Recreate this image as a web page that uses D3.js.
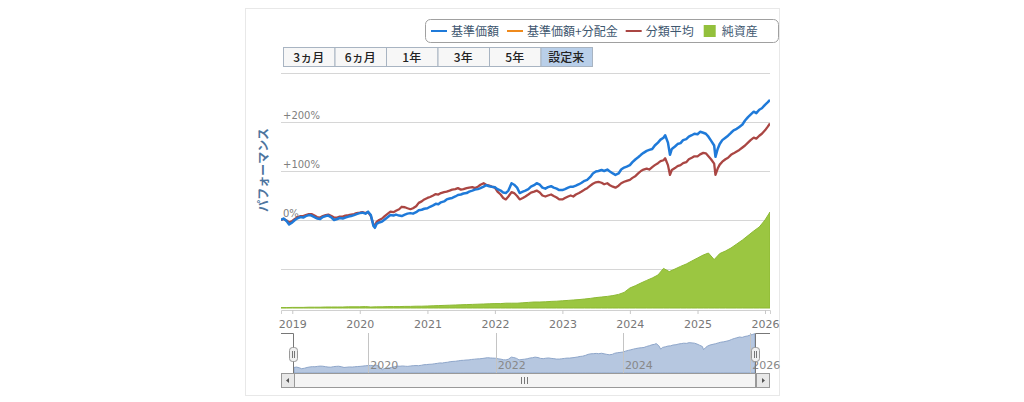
<!DOCTYPE html>
<html>
<head>
<meta charset="utf-8">
<script src="https://cdn.jsdelivr.net/npm/d3@7"></script>
<style>
  body { margin: 0; background: #fff; }
  text { font-family: "DejaVu Sans", sans-serif; }
  .jp { font-family: "Noto Sans CJK JP", sans-serif; }
</style>
</head>
<body>
<div id="chart"></div>
<script>
// ---- data ----
var dates = [
  "2018-11-01","2018-11-15","2018-12-01","2018-12-15",
  "2019-01-01","2019-01-15","2019-02-01","2019-02-15","2019-03-01","2019-03-15","2019-04-01","2019-04-15",
  "2019-05-01","2019-05-15","2019-06-01","2019-06-15","2019-07-01","2019-07-15","2019-08-01","2019-08-15",
  "2019-09-01","2019-09-15","2019-10-01","2019-10-15","2019-11-01","2019-11-15","2019-12-01","2019-12-15",
  "2020-01-01","2020-01-15","2020-02-01","2020-02-15","2020-03-01","2020-03-15","2020-03-23","2020-04-01",
  "2020-04-15","2020-05-01","2020-05-15","2020-06-01","2020-06-15","2020-07-01","2020-07-15","2020-08-01",
  "2020-08-15","2020-09-01","2020-09-15","2020-10-01","2020-10-15","2020-11-01","2020-11-15","2020-12-01","2020-12-15",
  "2021-01-01","2021-01-15","2021-02-01","2021-02-15","2021-03-01","2021-03-15","2021-04-01","2021-04-15",
  "2021-05-01","2021-05-15","2021-06-01","2021-06-15","2021-07-01","2021-07-15","2021-08-01","2021-08-15",
  "2021-09-01","2021-09-15","2021-10-01","2021-10-15","2021-11-01","2021-11-15","2021-12-01","2021-12-15",
  "2022-01-01","2022-01-15","2022-02-01","2022-02-15","2022-03-01","2022-03-15","2022-04-01","2022-04-15",
  "2022-05-01","2022-05-15","2022-06-01","2022-06-15","2022-07-01","2022-07-15","2022-08-01","2022-08-15",
  "2022-09-01","2022-09-15","2022-10-01","2022-10-15","2022-11-01","2022-11-15","2022-12-01","2022-12-15",
  "2023-01-01","2023-01-15","2023-02-01","2023-02-15","2023-03-01","2023-03-15","2023-04-01","2023-04-15",
  "2023-05-01","2023-05-15","2023-06-01","2023-06-15","2023-07-01","2023-07-15","2023-08-01","2023-08-15",
  "2023-09-01","2023-09-15","2023-10-01","2023-10-15","2023-11-01","2023-11-15","2023-12-01","2023-12-15",
  "2024-01-01","2024-01-15","2024-02-01","2024-02-15","2024-03-01","2024-03-15","2024-04-01","2024-04-15",
  "2024-05-01","2024-05-15","2024-06-01","2024-06-15","2024-07-01","2024-07-10","2024-07-25","2024-08-05",
  "2024-08-15","2024-09-01","2024-09-15","2024-10-01","2024-10-15","2024-11-01","2024-11-15","2024-12-01","2024-12-15",
  "2025-01-01","2025-01-15","2025-02-01","2025-02-15","2025-03-01","2025-03-15","2025-04-01","2025-04-08",
  "2025-04-20","2025-05-01","2025-05-15","2025-06-01","2025-06-15","2025-07-01","2025-07-15","2025-08-01",
  "2025-08-15","2025-09-01","2025-09-15","2025-10-01","2025-10-15","2025-11-01","2025-11-15","2025-12-01","2025-12-15",
  "2026-01-01","2026-01-15","2026-01-28"
];

// 基準価額 (%)
var navPrice = [
  0, 3, -2, -9,
  -5, 0, 4, 6, 5, 8, 10, 9, 6, 3, 2, 6, 8, 9, 5, 0, 2, 4, 3, 5, 7, 8, 10, 12,
  14, 15, 13, 17, 10, -12, -16, -8, -5, -3, 1, 6, 10, 9, 11, 9, 8, 11, 13, 14, 13, 16, 20, 21, 23,
  24, 27, 30, 33, 32, 36, 38, 42, 44, 45, 48, 51, 52, 54, 55, 58, 60, 62, 63, 65, 68, 71, 69, 68,
  67, 63, 60, 56, 55, 60, 75, 72, 66, 55, 58, 60, 63, 68, 71, 75, 72, 66, 64, 67, 69, 66, 64, 61,
  61, 63, 66, 68, 68, 70, 73, 76, 80, 82, 88, 95, 99, 100, 102, 100, 103, 99, 95, 92, 95, 103, 107, 109,
  112, 118, 124, 128, 133, 137, 141, 143, 145, 152, 158, 164, 168, 173, 158, 133, 145, 150, 155, 157, 163, 165, 170, 173, 176,
  175, 180, 178, 176, 170, 162, 152, 129, 145, 155, 163, 168, 172, 178, 183, 186, 190, 195, 203, 210, 215, 221, 218, 225, 228,
  235, 240, 245
];

// 分類平均 (%)
var catAvg = [
  0, 2, -1, -5,
  -2, 2, 6, 8, 8, 10, 12, 12, 9, 6, 5, 8, 10, 11, 8, 5, 5, 7, 7, 9, 10, 11, 12, 14,
  15, 16, 14, 16, 8, -9, -12, -4, 0, 3, 8, 13, 17, 16, 19, 22, 27, 26, 24, 22, 24, 28, 35, 38, 42,
  45, 47, 50, 53, 52, 55, 57, 58, 60, 62, 63, 65, 62, 63, 65, 66, 67, 65, 68, 72, 75, 72, 70, 68,
  66, 58, 52, 45, 42, 48, 57, 55, 49, 42, 45, 48, 52, 56, 58, 60, 56, 50, 48, 50, 52, 49, 46, 42,
  42, 45, 48, 50, 48, 52, 55, 58, 62, 65, 70, 74, 77, 78, 76, 73, 75, 71, 68, 66, 70, 75, 78, 80,
  82, 86, 90, 95, 100, 103, 105, 103, 108, 112, 116, 120, 122, 126, 112, 92, 102, 106, 110, 112, 116, 118, 124, 127, 130,
  130, 134, 137, 136, 130, 124, 115, 92, 105, 113, 119, 124, 127, 133, 136, 140, 143, 148, 152, 158, 163, 168, 166, 172, 176,
  183, 190, 197
];

// 純資産 (億円, monthly)
var assetDates = [
  "2018-11-01","2018-12-01",
  "2019-01-01","2019-02-01","2019-03-01","2019-04-01","2019-05-01","2019-06-01","2019-07-01","2019-08-01","2019-09-01","2019-10-01","2019-11-01","2019-12-01",
  "2020-01-01","2020-02-01","2020-03-01","2020-04-01","2020-05-01","2020-06-01","2020-07-01","2020-08-01","2020-09-01","2020-10-01","2020-11-01","2020-12-01",
  "2021-01-01","2021-02-01","2021-03-01","2021-04-01","2021-05-01","2021-06-01","2021-07-01","2021-08-01","2021-09-01","2021-10-01","2021-11-01","2021-12-01",
  "2022-01-01","2022-02-01","2022-03-01","2022-04-01","2022-05-01","2022-06-01","2022-07-01","2022-08-01","2022-09-01","2022-10-01","2022-11-01","2022-12-01",
  "2023-01-01","2023-02-01","2023-03-01","2023-04-01","2023-05-01","2023-06-01","2023-07-01","2023-08-01","2023-09-01","2023-10-01","2023-11-01","2023-12-01",
  "2024-01-01","2024-02-01","2024-03-01","2024-04-01","2024-05-01","2024-06-01","2024-07-01","2024-08-01","2024-09-01","2024-10-01","2024-11-01","2024-12-01",
  "2025-01-01","2025-02-01","2025-03-01","2025-04-01","2025-05-01","2025-06-01","2025-07-01","2025-08-01","2025-09-01","2025-10-01","2025-11-01","2025-12-01",
  "2026-01-01","2026-01-28"
];
var assetValues = [
  2, 2,
  3, 3, 3, 4, 4, 4, 5, 5, 5, 5, 6, 6,
  6, 7, 5, 6, 6, 7, 7, 7, 8, 8, 9, 9,
  10, 11, 12, 13, 14, 15, 16, 17, 18, 19, 20, 21,
  22, 22, 24, 24, 24, 26, 28, 30, 30, 31, 33, 34,
  36, 38, 40, 42, 45, 48, 52, 55, 58, 62, 68, 78,
  100, 112, 125, 138, 150, 165, 198, 182, 195, 208, 220, 235,
  250, 265, 275, 242, 272, 285, 300, 320, 340, 362, 385, 405,
  440, 480
];

var yTicks = [-100, 0, 100, 200, 300];
var yTickLabels = {"0": "0%", "100": "+100%", "200": "+200%"};
var rangeButtons = ["3ヵ月", "6ヵ月", "1年", "3年", "5年", "設定来"];
var legendNames = ["基準価額", "基準価額+分配金", "分類平均", "純資産"];
var legendColors = ["#1f7ad9", "#ef8a1c", "#aa4643", "#93c03c"];

// ---- setup ----
var width = 1024, height = 402;
var plot = {left: 281, right: 770, top: 73, bottom: 310};

var svg = d3.select("#chart").append("svg")
    .attr("width", width)
    .attr("height", height);

// panel border
svg.append("rect")
    .attr("x", 245.5).attr("y", 8.5)
    .attr("width", 534).attr("height", 387)
    .attr("fill", "#fff")
    .attr("stroke", "#e8e8e8");

var parse = d3.timeParse("%Y-%m-%d");
var t0 = parse(dates[0]), t1 = parse(dates[dates.length - 1]);

var x = d3.scaleTime().domain([t0, t1]).range([plot.left, plot.right]);
var y = d3.scaleLinear().domain([-100, 300]).range([269, 73]);
var yA = d3.scaleLinear().domain([0, 1200]).range([308, 68]);

var blue = dates.map(function(d, i) { return {date: parse(d), v: navPrice[i]}; });
var red = dates.map(function(d, i) { return {date: parse(d), v: catAvg[i]}; });
var assets = assetDates.map(function(d, i) { return {date: parse(d), v: assetValues[i]}; });

// ---- legend ----
var legend = svg.append("g");
legend.append("rect")
    .attr("x", 425.5).attr("y", 19.5)
    .attr("width", 353).attr("height", 23)
    .attr("rx", 5)
    .attr("fill", "#fff")
    .attr("stroke", "#a0a0a0");

var lx = 431;
legendNames.forEach(function(name, i) {
  if (i == 3) {
    legend.append("rect")
        .attr("x", lx + 2).attr("y", 25)
        .attr("width", 12).attr("height", 12)
        .attr("fill", legendColors[i]);
  } else {
    legend.append("line")
        .attr("x1", lx).attr("x2", lx + 16)
        .attr("y1", 31).attr("y2", 31)
        .attr("stroke", legendColors[i])
        .attr("stroke-width", 2);
  }
  var t = legend.append("text")
      .attr("class", "jp")
      .attr("x", lx + 20).attr("y", 35.5)
      .style("font-size", "12px")
      .style("fill", "#3e576f")
      .text(name);
  lx += 20 + t.node().getComputedTextLength() + 8;
});

// ---- range buttons ----
var btnW = 51.5;
var buttons = svg.append("g");
rangeButtons.forEach(function(label, i) {
  var bx = 283 + i * btnW;
  buttons.append("rect")
      .attr("x", bx + 0.5).attr("y", 47.5)
      .attr("width", btnW).attr("height", 19)
      .attr("fill", i == 5 ? "#b9cfe9" : "#f7f7f7")
      .attr("stroke", "#a8b4c2");
  buttons.append("text")
      .attr("class", "jp")
      .attr("x", bx + btnW / 2).attr("y", 61.5)
      .attr("text-anchor", "middle")
      .style("font-size", "12px")
      .style("font-weight", "500")
      .style("fill", "#222")
      .text(label);
});

// ---- gridlines and y labels ----
svg.append("g").selectAll("line")
    .data(yTicks)
    .enter().append("line")
      .attr("x1", plot.left).attr("x2", plot.right)
      .attr("y1", function(d) { return Math.round(y(d)) + 0.5; })
      .attr("y2", function(d) { return Math.round(y(d)) + 0.5; })
      .attr("stroke", "#d6d6d6");

svg.append("g").selectAll("text")
    .data(yTicks.filter(function(d) { return yTickLabels[d]; }))
    .enter().append("text")
      .attr("x", 283)
      .attr("y", function(d) { return y(d) - 3; })
      .style("font-size", "10px")
      .style("fill", "#808080")
      .text(function(d) { return yTickLabels[d]; });

// y axis title
svg.append("text")
    .attr("class", "jp")
    .attr("transform", "translate(268,170) rotate(-90)")
    .attr("text-anchor", "middle")
    .style("font-size", "12px")
    .style("font-weight", "bold")
    .style("fill", "#4d759e")
    .text("パフォーマンス");

// ---- series ----
svg.append("clipPath").attr("id", "clip")
  .append("rect")
    .attr("x", plot.left).attr("y", 60)
    .attr("width", plot.right - plot.left).attr("height", plot.bottom - 60);

var series = svg.append("g").attr("clip-path", "url(#clip)");

series.append("path")
    .datum(assets)
    .attr("fill", "#9bc641")
    .attr("stroke", "#8cb933")
    .attr("stroke-width", 1)
    .attr("d", d3.area()
      .x(function(d) { return x(d.date); })
      .y0(yA(0))
      .y1(function(d) { return yA(d.v); }));

var line = d3.line()
    .x(function(d) { return x(d.date); })
    .y(function(d) { return y(d.v); });

series.append("path")
    .datum(red)
    .attr("fill", "none")
    .attr("stroke", "#aa4643")
    .attr("stroke-width", 2.3)
    .attr("stroke-linejoin", "round")
    .attr("d", line);

series.append("path")
    .datum(blue)
    .attr("fill", "none")
    .attr("stroke", "#1f7ad9")
    .attr("stroke-width", 2.5)
    .attr("stroke-linejoin", "round")
    .attr("d", line);

// ---- x axis ----
var xAxis = svg.append("g")
    .attr("transform", "translate(0," + plot.bottom + ")")
    .call(d3.axisBottom(x)
      .ticks(d3.timeYear.every(1))
      .tickFormat(d3.timeFormat("%Y"))
      .tickSize(4));
xAxis.select(".domain").attr("stroke", "#d0d0d0");
xAxis.selectAll(".tick line").attr("stroke", "#c8c8c8");
xAxis.selectAll(".tick text")
    .attr("y", 10)
    .style("font-family", "DejaVu Sans")
    .style("font-size", "11px")
    .style("fill", "#777");

// ---- navigator ----
var xn = d3.scaleTime().domain([t0, t1]).range([294, 755]);
var yn = d3.scaleLinear().domain([-40, 250]).range([373, 333]);

var nav = svg.append("g");
nav.append("path")
    .datum(blue)
    .attr("fill", "#b6c7e0")
    .attr("stroke", "#8ea6ca")
    .attr("stroke-width", 1)
    .attr("d", d3.area()
      .x(function(d) { return xn(d.date); })
      .y0(373)
      .y1(function(d) { return yn(d.v); }));

var navTicks = xn.ticks(d3.timeYear.every(2));
nav.selectAll(".navgrid")
    .data(navTicks)
    .enter().append("line")
      .attr("x1", function(d) { return Math.round(xn(d)) + 0.5; })
      .attr("x2", function(d) { return Math.round(xn(d)) + 0.5; })
      .attr("y1", 333).attr("y2", 373)
      .attr("stroke", "#c4c4c4");
nav.selectAll(".navlabel")
    .data(navTicks)
    .enter().append("text")
      .attr("x", function(d) { return xn(d) + 2; })
      .attr("y", 369)
      .style("font-size", "11px")
      .style("fill", "#888")
      .text(d3.timeFormat("%Y"));

// outline
nav.append("path")
    .attr("d", "M281,333.5H293.5V373.5M755.5,373.5V333.5H770")
    .attr("fill", "none")
    .attr("stroke", "#777");

// handles
[293.5, 755.5].forEach(function(hx) {
  nav.append("rect")
      .attr("x", hx - 4).attr("y", 347.5)
      .attr("width", 8).attr("height", 14)
      .attr("rx", 3)
      .attr("fill", "#f0f0f0")
      .attr("stroke", "#999");
  nav.append("path")
      .attr("d", "M" + (hx - 1) + ",351V358M" + (hx + 1) + ",351V358")
      .attr("stroke", "#777");
});

// scrollbar
var sb = svg.append("g");
sb.append("rect")
    .attr("x", 281.5).attr("y", 373.5)
    .attr("width", 488).attr("height", 14)
    .attr("fill", "#eee").attr("stroke", "#aaa");
sb.append("rect")
    .attr("x", 294.5).attr("y", 373.5)
    .attr("width", 461).attr("height", 14)
    .attr("fill", "#f4f4f4").attr("stroke", "#999");
sb.append("rect")
    .attr("x", 281.5).attr("y", 373.5)
    .attr("width", 13).attr("height", 14)
    .attr("fill", "#e8e8e8").attr("stroke", "#999");
sb.append("rect")
    .attr("x", 756.5).attr("y", 373.5)
    .attr("width", 13).attr("height", 14)
    .attr("fill", "#e8e8e8").attr("stroke", "#999");
sb.append("path").attr("d", "M289,378L286,380.5L289,383Z").attr("fill", "#555");
sb.append("path").attr("d", "M762,378L765,380.5L762,383Z").attr("fill", "#555");
sb.append("path")
    .attr("d", "M521.5,377V384M524.5,377V384M527.5,377V384")
    .attr("stroke", "#777");
</script>
</body>
</html>
